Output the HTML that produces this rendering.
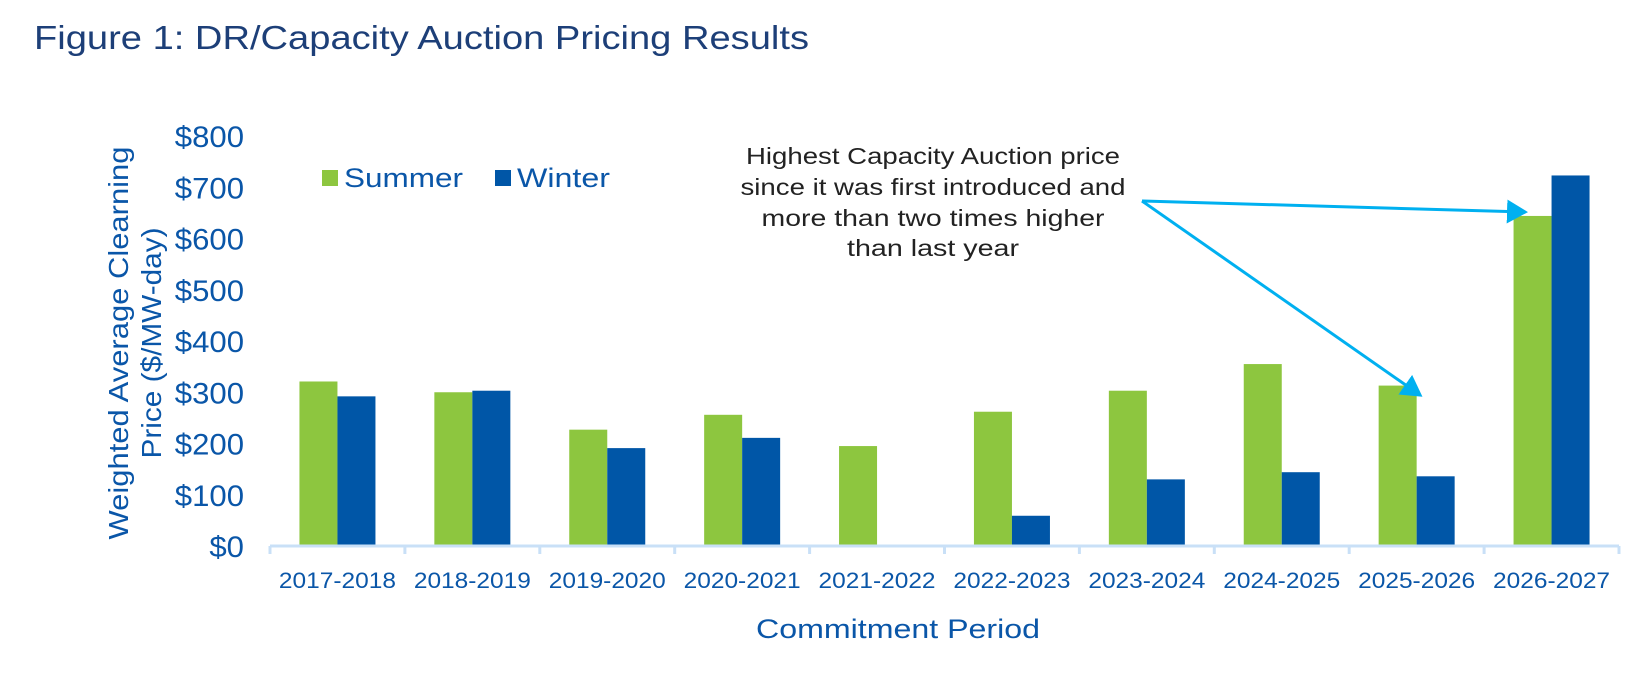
<!DOCTYPE html>
<html><head><meta charset="utf-8"><style>
body{margin:0;background:#fff;}
svg{display:block;font-family:"Liberation Sans",sans-serif;}
</style></head><body>
<svg id="chart" width="1628" height="688">
<text x="34" y="49" font-size="33" fill="#1d3f78" textLength="775" lengthAdjust="spacingAndGlyphs">Figure 1: DR/Capacity Auction Pricing Results</text>
<g id="yticks"></g>
<g id="bars"></g>
<line x1="270" y1="546" x2="1619" y2="546" stroke="#c9e0f7" stroke-width="3"/>
<g id="xticks"></g>
<g transform="translate(0,343) rotate(-90)">
<text x="0" y="128" text-anchor="middle" font-size="28" fill="#0a56a8" textLength="393" lengthAdjust="spacingAndGlyphs">Weighted Average Clearning</text>
<text x="0" y="161" text-anchor="middle" font-size="28" fill="#0a56a8" textLength="231" lengthAdjust="spacingAndGlyphs">Price ($/MW-day)</text>
</g>
<text x="898" y="638" text-anchor="middle" font-size="27" fill="#0a56a8" textLength="284" lengthAdjust="spacingAndGlyphs">Commitment Period</text>
<g>
<rect x="322" y="170" width="16" height="16" fill="#8dc63f"/>
<text x="344" y="187" font-size="27" fill="#0a56a8" textLength="119" lengthAdjust="spacingAndGlyphs">Summer</text>
<rect x="495" y="170" width="16" height="16" fill="#0056a7"/>
<text x="517" y="187" font-size="27" fill="#0a56a8" textLength="93" lengthAdjust="spacingAndGlyphs">Winter</text>
</g>
<g font-size="23" fill="#222" text-anchor="middle" lengthAdjust="spacingAndGlyphs">
<text x="933" y="164" textLength="374" lengthAdjust="spacingAndGlyphs">Highest Capacity Auction price</text>
<text x="933" y="195" textLength="385" lengthAdjust="spacingAndGlyphs">since it was first introduced and</text>
<text x="933" y="226" textLength="343" lengthAdjust="spacingAndGlyphs">more than two times higher</text>
<text x="933" y="256" textLength="172" lengthAdjust="spacingAndGlyphs">than last year</text>
</g>
<defs><marker id="ah" markerWidth="8" markerHeight="8" refX="6" refY="4" orient="auto" markerUnits="strokeWidth"><path d="M0,0 L7,4 L0,8 z" fill="#00b0f0"/></marker></defs>
<line x1="1142" y1="201" x2="1525" y2="212" stroke="#00b0f0" stroke-width="3" marker-end="url(#ah)"/>
<line x1="1142" y1="201" x2="1420" y2="395" stroke="#00b0f0" stroke-width="3" marker-end="url(#ah)"/>
</svg>
<script>
const categories=["2017-2018","2018-2019","2019-2020","2020-2021","2021-2022","2022-2023","2023-2024","2024-2025","2025-2026","2026-2027"];
const summer=[321,300,227,256,195,262,303,355,313,644];
const winter=[292,303,191,211,0,59,130,144,136,723];
const yTicks=[0,100,200,300,400,500,600,700,800];
const NS="http://www.w3.org/2000/svg";
const x0=270,x1=1619,y0=546,yTop=136,maxV=800,bw=38;
const catW=(x1-x0)/categories.length;
const yS=v=>y0-(v/maxV)*(y0-yTop);
const xC=i=>x0+catW*(i+0.5);
function mk(tag,attrs,parent){const e=document.createElementNS(NS,tag);for(const k in attrs)e.setAttribute(k,attrs[k]);parent.appendChild(e);return e;}
const yt=document.getElementById('yticks'),bars=document.getElementById('bars'),xt=document.getElementById('xticks');
yTicks.forEach(v=>{const lab='$'+v;const t=mk('text',{x:244,y:yS(v)+11,'text-anchor':'end','font-size':30,fill:'#0a56a8',textLength:lab.length*17.3,lengthAdjust:'spacingAndGlyphs'},yt);t.textContent=lab;

});
for(let i=0;i<=categories.length;i++){const l=mk('line',{x1:x0+catW*i,y1:y0,x2:x0+catW*i,y2:y0+8,stroke:'#c9e0f7','stroke-width':3},xt);

}
categories.forEach((c,i)=>{
const cx=xC(i);
const s=mk('rect',{x:cx-bw,y:yS(summer[i]),width:bw,height:y0-yS(summer[i]),fill:'#8dc63f'},bars);


const w=mk('rect',{x:cx,y:yS(winter[i]),width:bw,height:y0-yS(winter[i]),fill:'#0056a7'},bars);


const t=mk('text',{x:cx,y:588,'text-anchor':'middle','font-size':22,fill:'#0a56a8',textLength:117,lengthAdjust:'spacingAndGlyphs'},xt);t.textContent=c;


});
</script>
</body></html>
